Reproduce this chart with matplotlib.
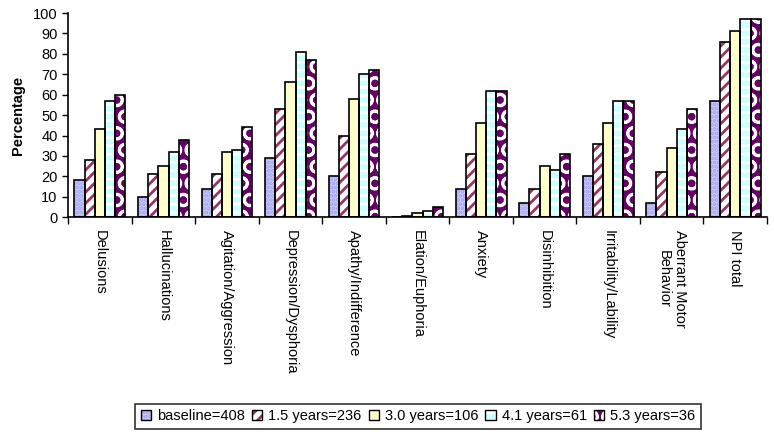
import numpy as np
import matplotlib
matplotlib.use("Agg")
import matplotlib.pyplot as plt
from matplotlib.patches import Patch
from matplotlib.legend_handler import HandlerTuple

plt.rcParams['font.family'] = ['Liberation Sans', 'DejaVu Sans']
plt.rcParams['hatch.linewidth'] = 2.0

# categories (x axis)
categories = ['Delusions', 'Hallucinations', 'Agitation/Aggression',
              'Depression/Dysphoria', 'Apathy/Indifference', 'Elation/Euphoria',
              'Anxiety', 'Disinhibition', 'Irritability/Lability',
              'Aberrant Motor\nBehavior', 'NPI total']

# series labels
series = ['baseline=408', '1.5 years=236', '3.0 years=106',
          '4.1 years=61', '5.3 years=36']

# percentages
baseline = [18, 10, 14, 29, 20, 0.3, 14, 7, 20, 7, 57]
yr15     = [28, 21, 21, 53, 40, 0.5, 31, 14, 36, 22, 86]
yr30     = [43, 25, 32, 66, 58, 1.8, 46, 25, 46, 34, 91]
yr41     = [57, 32, 33, 81, 70, 3.1, 62, 23, 57, 43, 97]
yr53     = [60, 38, 44, 77, 72, 5.0, 62, 31, 57, 53, 97]

data = [baseline, yr15, yr30, yr41, yr53]

# face colour, hatch colour, hatch
styles = [('#CCCCFF', '#A0A0EE', '....'),
          ('white', '#993366', '///'),
          ('#FFFFCC', '#FFFFCC', None),
          ('#CCFFFF', 'white', '--'),
          ('#660066', 'white', 'O')]

fig = plt.figure(figsize=(7.74, 4.36), dpi=100)
ax = fig.add_axes([0.088, 0.502, 0.903, 0.468])

x = np.arange(len(categories))
w = 0.16
handles = []
for i, vals in enumerate(data):
    fc, hc, hatch = styles[i]
    pos = x + (i - 2) * w
    ax.bar(pos, vals, w, color=fc, edgecolor=hc, hatch=hatch, linewidth=0, zorder=2)
    ax.bar(pos, vals, w, fill=False, edgecolor='black', linewidth=1.2, zorder=3)
    handles.append((Patch(facecolor=fc, edgecolor=hc, hatch=hatch, linewidth=0),
                    Patch(fill=False, edgecolor='black', linewidth=1.0)))

ax.set_xlim(-0.5, len(categories) - 0.5)
ax.set_ylim(0, 100)
ax.set_yticks(range(0, 101, 10))
ax.tick_params(axis='y', labelsize=10.5, length=4, width=1)
ax.set_ylabel('Percentage', fontsize=10.5, fontweight='bold', labelpad=6)

ax.set_xticks(x)
ax.set_xticklabels(categories, rotation=-90, fontsize=10.5, va='top', ha='center',
                   multialignment='center')
ax.tick_params(axis='x', which='major', length=0, pad=9)
ax.set_xticks(np.arange(-0.5, len(categories), 1), minor=True)
ax.tick_params(axis='x', which='minor', length=5, width=1, direction='out')

for s in ['top', 'right']:
    ax.spines[s].set_visible(False)
for s in ['left', 'bottom']:
    ax.spines[s].set_linewidth(1.2)

leg = fig.legend(handles, series, loc='center', bbox_to_anchor=(0.54, 0.045),
                 ncol=5, fontsize=10.5, frameon=True, fancybox=False,
                 handlelength=0.7, handleheight=0.7, handletextpad=0.4,
                 columnspacing=0.5, borderpad=0.4,
                 handler_map={tuple: HandlerTuple(ndivide=1)})
leg.get_frame().set_edgecolor('black')
leg.get_frame().set_linewidth(1.2)

fig.savefig('out.png', dpi=100)
